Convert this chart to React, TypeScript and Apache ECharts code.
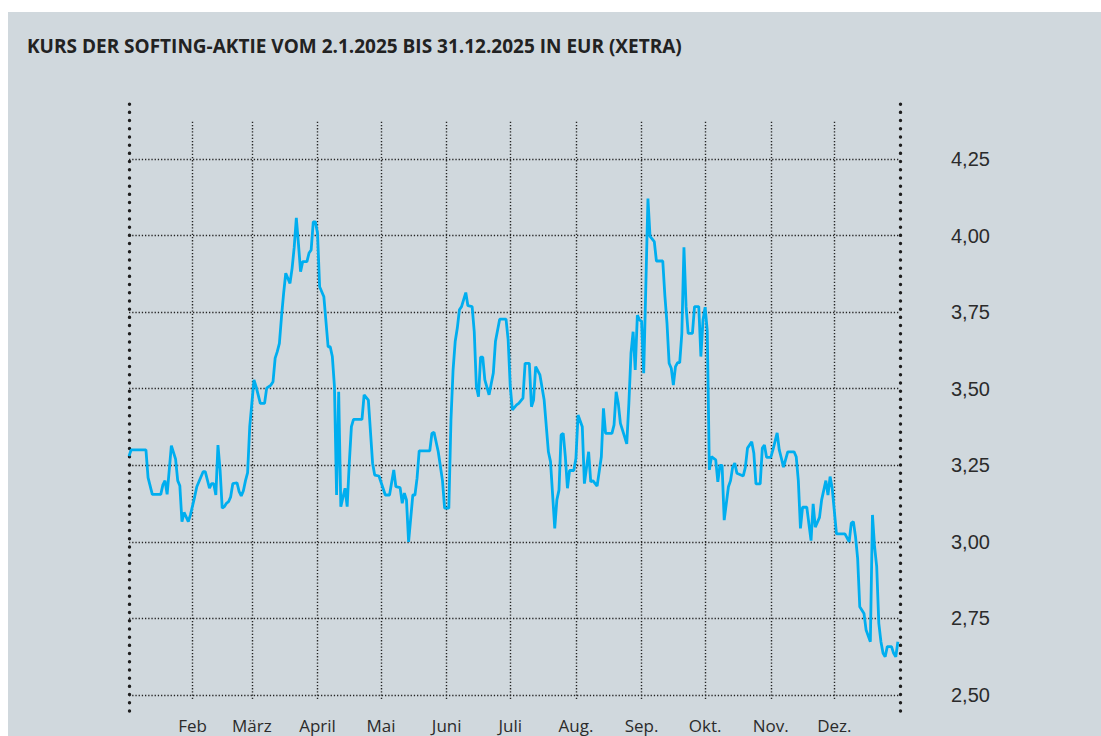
import React, { useEffect, useRef } from "react";
import * as echarts from "echarts";

const TITLE = "KURS DER SOFTING-AKTIE VOM 2.1.2025 BIS 31.12.2025 IN EUR (XETRA)";

const X_MIN = "2025-01-02";
const X_MAX = "2026-01-01";

const monthStarts = [
  "2025-02-01", "2025-03-01", "2025-04-01", "2025-05-01", "2025-06-01", "2025-07-01",
  "2025-08-01", "2025-09-01", "2025-10-01", "2025-11-01", "2025-12-01",
];
const monthLabels = ["Feb", "März", "April", "Mai", "Juni", "Juli", "Aug.", "Sep.", "Okt.", "Nov.", "Dez."];

const Y_MIN = 2.5;
const Y_MAX = 4.25;
const Y_STEP = 0.25;

const dates = [
  "2025-01-02", "2025-01-03", "2025-01-10", "2025-01-11", "2025-01-13", "2025-01-17", "2025-01-18", "2025-01-19",
  "2025-01-20", "2025-01-22", "2025-01-24", "2025-01-25", "2025-01-26", "2025-01-27", "2025-01-28", "2025-01-30",
  "2025-01-31",
  "2025-02-02", "2025-02-03", "2025-02-06", "2025-02-07", "2025-02-09", "2025-02-10", "2025-02-11", "2025-02-12",
  "2025-02-13", "2025-02-14", "2025-02-15", "2025-02-16", "2025-02-17", "2025-02-18", "2025-02-19", "2025-02-20",
  "2025-02-22", "2025-02-23", "2025-02-24", "2025-02-25", "2025-02-26", "2025-02-27", "2025-02-28",
  "2025-03-01", "2025-03-02", "2025-03-03", "2025-03-05", "2025-03-07", "2025-03-08", "2025-03-10", "2025-03-11",
  "2025-03-12", "2025-03-13", "2025-03-14", "2025-03-15", "2025-03-16", "2025-03-17", "2025-03-19", "2025-03-20",
  "2025-03-21", "2025-03-22", "2025-03-23", "2025-03-24", "2025-03-25", "2025-03-27", "2025-03-28", "2025-03-29",
  "2025-03-30", "2025-03-31",
  "2025-04-01", "2025-04-02", "2025-04-04", "2025-04-06", "2025-04-07", "2025-04-08", "2025-04-09", "2025-04-10",
  "2025-04-11", "2025-04-12", "2025-04-14", "2025-04-15", "2025-04-16", "2025-04-17", "2025-04-18", "2025-04-22",
  "2025-04-23", "2025-04-25", "2025-04-27", "2025-04-28", "2025-04-30",
  "2025-05-03", "2025-05-05", "2025-05-07", "2025-05-08", "2025-05-10", "2025-05-11", "2025-05-12", "2025-05-13",
  "2025-05-14", "2025-05-16", "2025-05-17", "2025-05-18", "2025-05-19", "2025-05-24", "2025-05-25", "2025-05-26",
  "2025-05-28", "2025-05-30", "2025-05-31",
  "2025-06-02", "2025-06-03", "2025-06-04", "2025-06-05", "2025-06-06", "2025-06-07", "2025-06-08", "2025-06-10",
  "2025-06-11", "2025-06-13", "2025-06-14", "2025-06-15", "2025-06-16", "2025-06-17", "2025-06-18", "2025-06-19",
  "2025-06-21", "2025-06-23", "2025-06-24", "2025-06-26", "2025-06-29", "2025-06-30",
  "2025-07-01", "2025-07-02", "2025-07-04", "2025-07-05", "2025-07-07", "2025-07-08", "2025-07-10", "2025-07-11",
  "2025-07-12", "2025-07-13", "2025-07-15", "2025-07-17", "2025-07-19", "2025-07-20", "2025-07-22", "2025-07-23",
  "2025-07-24", "2025-07-25", "2025-07-26", "2025-07-27", "2025-07-28", "2025-07-29", "2025-07-31",
  "2025-08-01", "2025-08-02", "2025-08-04", "2025-08-05", "2025-08-07", "2025-08-08", "2025-08-09", "2025-08-11",
  "2025-08-13", "2025-08-14", "2025-08-15", "2025-08-18", "2025-08-19", "2025-08-20", "2025-08-21", "2025-08-22",
  "2025-08-24", "2025-08-25", "2025-08-26", "2025-08-27", "2025-08-28", "2025-08-29", "2025-08-30", "2025-08-31",
  "2025-09-01", "2025-09-02", "2025-09-04", "2025-09-05", "2025-09-07", "2025-09-08", "2025-09-11", "2025-09-12",
  "2025-09-13", "2025-09-14", "2025-09-15", "2025-09-16", "2025-09-17", "2025-09-18", "2025-09-19", "2025-09-20",
  "2025-09-21", "2025-09-22", "2025-09-23", "2025-09-25", "2025-09-26", "2025-09-28", "2025-09-29", "2025-09-30",
  "2025-10-01", "2025-10-02", "2025-10-03", "2025-10-04", "2025-10-06", "2025-10-07", "2025-10-08", "2025-10-09",
  "2025-10-10", "2025-10-12", "2025-10-13", "2025-10-14", "2025-10-15", "2025-10-16", "2025-10-19", "2025-10-20",
  "2025-10-21", "2025-10-23", "2025-10-24", "2025-10-25", "2025-10-27", "2025-10-28", "2025-10-29", "2025-10-30",
  "2025-11-01", "2025-11-02", "2025-11-04", "2025-11-05", "2025-11-06", "2025-11-07", "2025-11-09", "2025-11-12",
  "2025-11-13", "2025-11-14", "2025-11-15", "2025-11-16", "2025-11-18", "2025-11-20", "2025-11-21", "2025-11-22",
  "2025-11-24", "2025-11-25", "2025-11-27", "2025-11-28", "2025-11-29", "2025-11-30",
  "2025-12-02", "2025-12-06", "2025-12-08", "2025-12-09", "2025-12-10", "2025-12-11", "2025-12-12", "2025-12-13",
  "2025-12-15", "2025-12-16", "2025-12-18", "2025-12-19", "2025-12-20", "2025-12-21", "2025-12-22", "2025-12-23",
  "2025-12-24", "2025-12-25", "2025-12-26", "2025-12-28", "2025-12-29", "2025-12-30", "2025-12-31",
];

const prices = [
  3.28, 3.30, 3.30, 3.21, 3.155, 3.155, 3.186, 3.20,
  3.155, 3.314, 3.27, 3.20, 3.183, 3.066, 3.096, 3.066,
  3.088,
  3.147, 3.18, 3.229, 3.229, 3.175, 3.19, 3.19, 3.153,
  3.316, 3.235, 3.11, 3.115, 3.126, 3.131, 3.147, 3.19,
  3.193, 3.164, 3.15, 3.167, 3.20, 3.226, 3.376,
  3.452, 3.529, 3.507, 3.452, 3.452, 3.502, 3.512, 3.523,
  3.60, 3.621, 3.648, 3.735, 3.811, 3.877, 3.844, 3.893,
  3.962, 4.058, 3.973, 3.882, 3.915, 3.915, 3.943, 3.953,
  4.045, 4.045,
  4.008, 3.833, 3.80, 3.637, 3.637, 3.605, 3.507, 3.153,
  3.49, 3.115, 3.175, 3.115, 3.257, 3.376, 3.40, 3.40,
  3.48, 3.463, 3.257, 3.218, 3.215,
  3.153, 3.153, 3.235, 3.18, 3.177, 3.126, 3.159, 3.137,
  3.00, 3.153, 3.153, 3.208, 3.297, 3.297, 3.354, 3.358,
  3.294, 3.20, 3.11,
  3.11, 3.398, 3.561, 3.654, 3.698, 3.758, 3.768, 3.814,
  3.771, 3.768, 3.686, 3.507, 3.474, 3.603, 3.603, 3.529,
  3.48, 3.551, 3.654, 3.727, 3.727, 3.66,
  3.507, 3.431, 3.447, 3.452, 3.469, 3.583, 3.583, 3.441,
  3.463, 3.572, 3.545, 3.463, 3.294, 3.262, 3.044, 3.137,
  3.169, 3.349, 3.354, 3.278, 3.175, 3.233, 3.233,
  3.273, 3.414, 3.376, 3.19, 3.294, 3.196, 3.20, 3.182,
  3.278, 3.436, 3.354, 3.354, 3.382, 3.49, 3.452, 3.387,
  3.343, 3.32, 3.452, 3.616, 3.686, 3.561, 3.74, 3.725,
  3.72, 3.551, 4.121, 3.997, 3.98, 3.917, 3.917, 3.803,
  3.713, 3.583, 3.567, 3.512, 3.572, 3.585, 3.585, 3.681,
  3.962, 3.768, 3.681, 3.681, 3.768, 3.768, 3.605, 3.725,
  3.766, 3.69, 3.235, 3.278, 3.268, 3.196, 3.25, 3.25,
  3.071, 3.18, 3.20, 3.244, 3.257, 3.224, 3.215, 3.244,
  3.306, 3.327, 3.289, 3.189, 3.189, 3.306, 3.316, 3.276,
  3.276, 3.30, 3.356, 3.30, 3.273, 3.244, 3.294, 3.294,
  3.278, 3.20, 3.044, 3.113, 3.113, 3.004, 3.124, 3.048,
  3.08, 3.137, 3.20, 3.153, 3.213, 3.175,
  3.026, 3.026, 3.00, 3.061, 3.066, 3.017, 2.946, 2.788,
  2.766, 2.712, 2.674, 3.088, 2.984, 2.919, 2.734, 2.674,
  2.636, 2.625, 2.658, 2.658, 2.636, 2.625, 2.674,
];

const ts = (s: string) => new Date(s + "T00:00:00").getTime();

const GRID_LEFT = 129;
const GRID_RIGHT = 201;
const DOT_FRAME = { color: "#1e1e1e", width: 3.4, type: [0.1, 8.1] as number[], cap: "round" };
const FINE_DOTS = { color: "#262626", width: 1.4, type: [1.3, 1.9] as number[] };

export default function App() {
  const ref = useRef<HTMLDivElement>(null);

  useEffect(() => {
    document.body.style.margin = "0";
    if (!ref.current) return;
    const chart = echarts.init(ref.current, undefined, { renderer: "svg" });
    const xMin = ts(X_MIN);
    const xMax = ts(X_MAX);
    chart.setOption({
      animation: false,
      title: {
        text: TITLE,
        left: 22,
        top: 31,
        textStyle: { fontFamily: "Open Sans", fontWeight: "bold", fontSize: 19, color: "#222" },
      },
      grid: [
        { left: GRID_LEFT, right: GRID_RIGHT, top: 103, bottom: 25 },
        { left: GRID_LEFT, right: GRID_RIGHT, top: 159, bottom: 41 },
        { left: GRID_LEFT, right: GRID_RIGHT, top: 120, bottom: 37 },
      ],
      xAxis: [
        { gridIndex: 0, type: "value", min: 0, max: 1, show: false },
        { gridIndex: 1, type: "time", min: xMin, max: xMax, show: false },
        { gridIndex: 2, type: "time", min: xMin, max: xMax, show: false },
      ],
      yAxis: [
        {
          gridIndex: 0, type: "value", min: 0, max: 1, position: "left",
          axisLine: { show: true, lineStyle: DOT_FRAME },
          axisTick: { show: false }, axisLabel: { show: false }, splitLine: { show: false },
        },
        {
          gridIndex: 0, type: "value", min: 0, max: 1, position: "right",
          axisLine: { show: true, lineStyle: DOT_FRAME },
          axisTick: { show: false }, axisLabel: { show: false }, splitLine: { show: false },
        },
        {
          gridIndex: 1, type: "value", min: Y_MIN, max: Y_MAX, interval: Y_STEP, position: "right",
          axisLine: { show: false }, axisTick: { show: false },
          axisLabel: {
            margin: 51,
            align: "left",
            color: "#2b2b2b",
            fontSize: 20,
            fontFamily: "Liberation Sans",
            formatter: (v: number) => v.toFixed(2).replace(".", ","),
          },
          splitLine: { show: true, lineStyle: FINE_DOTS },
        },
        { gridIndex: 2, type: "value", min: 0, max: 1, show: false },
      ],
      series: [
        {
          type: "line",
          xAxisIndex: 2,
          yAxisIndex: 3,
          data: [[xMin, 0]],
          symbol: "none",
          silent: true,
          z: 1,
          markLine: {
            silent: true,
            symbol: ["none", "none"],
            lineStyle: FINE_DOTS,
            label: {
              show: true,
              position: "start",
              distance: 18,
              color: "#2b2b2b",
              fontSize: 17,
              fontFamily: "Open Sans",
              formatter: "{b}",
            },
            data: monthStarts.map((d, i) => ({ name: monthLabels[i], xAxis: ts(d) })),
          },
        },
        {
          type: "line",
          xAxisIndex: 1,
          yAxisIndex: 2,
          data: dates.map((d, i) => [ts(d), prices[i]]),
          symbol: "none",
          lineStyle: { color: "#00aeef", width: 2.8 },
          z: 5,
        },
      ],
    });
    return () => chart.dispose();
  }, []);

  return (
    <div style={{ position: "relative", width: 1101, height: 736, overflow: "hidden", background: "#fff" }}>
      <div style={{ position: "absolute", left: 8, top: 12, right: 0, bottom: 0, background: "#d0d8dd" }} />
      <div ref={ref} style={{ position: "absolute", left: 0, top: 0, width: 1101, height: 736 }} />
    </div>
  );
}
